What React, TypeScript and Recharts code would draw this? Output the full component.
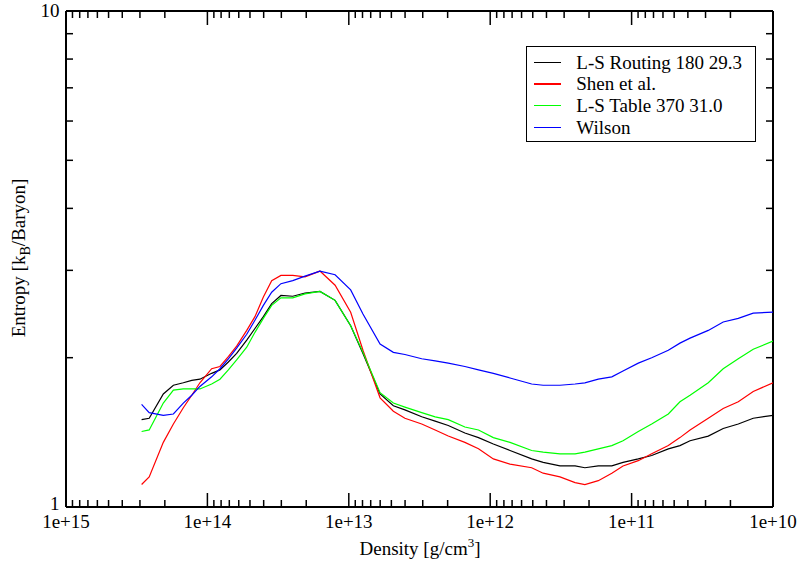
import {
  LineChart,
  Line,
  XAxis,
  YAxis,
  Legend,
  ReferenceLine,
} from "recharts";

const FONT = "'Liberation Serif', 'Times New Roman', serif";

// density [g/cm^3], shared by all four curves
const density = [
  2.92e14, 2.58e14, 2.05e14, 1.74e14, 1.48e14, 1.29e14, 1.13e14, 9.33e13,
  8.15e13, 7.11e13, 6.21e13, 5.27e13, 4.61e13, 4.02e13, 3.51e13, 3.02e13,
  2.49e13, 2.04e13, 1.6e13, 1.25e13, 9.7e12, 7.94e12, 6.01e12, 4.84e12,
  4.01e12, 3.05e12, 2.45e12, 1.98e12, 1.51e12, 1.21e12, 9.5e11, 7.24e11,
  5.09e11, 4.22e11, 3.21e11, 2.51e11, 2.14e11, 1.72e11, 1.38e11, 1.15e11,
  8.97e10, 7.21e10, 5.5e10, 4.55e10, 3.86e10, 2.87e10, 2.25e10, 1.76e10,
  1.38e10, 1.0e10,
];

const lsRouting = [
  1.5, 1.51, 1.69, 1.76, 1.78, 1.8, 1.81, 1.86, 1.89, 1.96, 2.04, 2.17, 2.29,
  2.42, 2.57, 2.67, 2.66, 2.7, 2.72, 2.61, 2.32, 2.04, 1.69, 1.6, 1.57, 1.52,
  1.49, 1.46, 1.41, 1.38, 1.34, 1.3, 1.25, 1.23, 1.21, 1.21, 1.2, 1.21, 1.21,
  1.23, 1.25, 1.27, 1.31, 1.33, 1.36, 1.39, 1.44, 1.47, 1.51, 1.53,
];

const shen = [
  1.11, 1.15, 1.35, 1.47, 1.585, 1.68, 1.78, 1.9, 1.92, 2.01, 2.11, 2.27, 2.42,
  2.65, 2.86, 2.93, 2.93, 2.91, 2.99, 2.8, 2.47, 2.07, 1.66, 1.56, 1.51, 1.47,
  1.43, 1.39, 1.35, 1.31, 1.25, 1.22, 1.2, 1.17, 1.15, 1.12, 1.11, 1.13, 1.17,
  1.21, 1.24, 1.28, 1.33, 1.38, 1.43, 1.51, 1.58, 1.63, 1.71, 1.78,
];

const lsTable = [
  1.42, 1.43, 1.62, 1.72, 1.73, 1.73, 1.73, 1.77, 1.81, 1.89, 1.98, 2.1, 2.25,
  2.4, 2.55, 2.64, 2.64, 2.69, 2.72, 2.61, 2.32, 2.05, 1.7, 1.62, 1.59, 1.55,
  1.52, 1.5, 1.45, 1.43, 1.38, 1.35, 1.3, 1.29, 1.28, 1.28, 1.29, 1.31, 1.33,
  1.36, 1.42, 1.47, 1.54, 1.63, 1.68, 1.78, 1.9, 1.99, 2.08, 2.16,
];

const wilson = [
  1.61, 1.55, 1.53, 1.54, 1.62, 1.68, 1.75, 1.83, 1.9, 1.99, 2.09, 2.23, 2.38,
  2.55, 2.71, 2.82, 2.86, 2.92, 2.99, 2.94, 2.74, 2.45, 2.13, 2.05, 2.03, 1.99,
  1.97, 1.95, 1.92, 1.89, 1.86, 1.82, 1.77, 1.76, 1.76, 1.77, 1.78, 1.81, 1.83,
  1.88, 1.95, 2.0, 2.07, 2.14, 2.19, 2.27, 2.36, 2.4, 2.46, 2.47,
];

const series = [
  { key: "lsRouting", name: "L-S Routing 180 29.3", color: "#000000" },
  { key: "shen", name: "Shen et al.", color: "#ff0000" },
  { key: "lsTable", name: "L-S Table 370 31.0", color: "#00ff00" },
  { key: "wilson", name: "Wilson", color: "#0000ff" },
];

const xDecades = [10, 11, 12, 13, 14, 15];
const yTicks = [1, 2, 3, 4, 5, 6, 7, 8, 9, 10];

const xTicks: number[] = [];
xDecades.forEach((p) => {
  xTicks.push(Math.pow(10, p));
  if (p < 15) for (let m = 2; m <= 9; m++) xTicks.push(m * Math.pow(10, p));
});

const data = density.map((d, i) => ({
  d,
  lsRouting: lsRouting[i],
  shen: shen[i],
  lsTable: lsTable[i],
  wilson: wilson[i],
}));

const W = 801;
const H = 565;
const PLOT_W = 707;
const PLOT_H = 496;

const isDecade = (v: number) =>
  Math.abs(Math.log10(v) - Math.round(Math.log10(v))) < 1e-6;

const textStyle = { fontFamily: FONT, fontSize: 19 };

const XTick = (props: any) => {
  const { x, y, payload } = props;
  const v = payload.value;
  const major = isDecade(v);
  const len = major ? 14 : 7;
  return (
    <g>
      <line x1={x} y1={y} x2={x} y2={y - len} stroke="#000" strokeWidth={1.5} />
      <line
        x1={x}
        y1={y - PLOT_H}
        x2={x}
        y2={y - PLOT_H + len}
        stroke="#000"
        strokeWidth={1.5}
      />
      {major && (
        <text x={x} y={y + 20.5} textAnchor="middle" style={textStyle} fill="#000">
          {"1e+" + Math.round(Math.log10(v))}
        </text>
      )}
    </g>
  );
};

const YTick = (props: any) => {
  const { x, y, payload } = props;
  const v = payload.value;
  const major = isDecade(v);
  const len = 7;
  return (
    <g>
      {!major && (
        <>
          <line x1={x} y1={y} x2={x + len} y2={y} stroke="#000" strokeWidth={1.5} />
          <line
            x1={x + PLOT_W}
            y1={y}
            x2={x + PLOT_W - len}
            y2={y}
            stroke="#000"
            strokeWidth={1.5}
          />
        </>
      )}
      {major && (
        <text
          x={x - 6.5}
          y={y + (v === 1 ? 3 : 6)}
          textAnchor="end"
          style={textStyle}
          fill="#000"
        >
          {v}
        </text>
      )}
    </g>
  );
};

const LegendBox = () => (
  <div
    style={{
      width: 230,
      height: 96,
      boxSizing: "border-box",
      border: "1px solid #000",
      background: "#fff",
      padding: "4.5px 0 0 7.3px",
      fontFamily: FONT,
      fontSize: 19,
      color: "#000",
    }}
  >
    {series.map((s) => (
      <div
        key={s.key}
        style={{ display: "flex", alignItems: "center", height: 21.7 }}
      >
        <span
          style={{
            display: "inline-block",
            width: 27,
            height: 1.3,
            background: s.color,
            marginRight: 15,
          }}
        />
        <span style={{ lineHeight: "21.7px", whiteSpace: "nowrap" }}>{s.name}</span>
      </div>
    ))}
  </div>
);

export default function App() {
  return (
    <div style={{ position: "absolute", left: 0, top: 0, background: "#fff" }}>
      <LineChart
        width={W}
        height={H}
        data={data}
        margin={{ top: 11, right: 28, bottom: 0, left: 0 }}
      >
        <XAxis
          dataKey="d"
          type="number"
          scale="log"
          domain={[1e10, 1e15]}
          reversed
          allowDataOverflow
          ticks={xTicks}
          interval={0}
          tickSize={0}
          tickMargin={0}
          tickLine={false}
          tick={<XTick />}
          height={58}
          axisLine={{ stroke: "#000", strokeWidth: 2 }}
          label={{
            content: () => (
              <text x={420} y={555} textAnchor="middle" style={textStyle} fill="#000">
                Density [g/cm
                <tspan dy={-8} fontSize={13}>
                  3
                </tspan>
                <tspan dy={8}>]</tspan>
              </text>
            ),
          }}
        />
        <YAxis
          type="number"
          scale="log"
          domain={[1, 10]}
          allowDataOverflow
          ticks={yTicks}
          interval={0}
          tickSize={0}
          tickMargin={0}
          tickLine={false}
          tick={<YTick />}
          width={66}
          axisLine={{ stroke: "#000", strokeWidth: 2 }}
          label={{
            content: () => (
              <text
                x={24.5}
                y={258}
                transform="rotate(-90 24.5 258)"
                textAnchor="middle"
                style={textStyle}
                fill="#000"
              >
                Entropy [k
                <tspan dy={5} fontSize={14}>
                  B
                </tspan>
                <tspan dy={-5}>/Baryon]</tspan>
              </text>
            ),
          }}
        />
        <ReferenceLine y={10} stroke="#000" strokeWidth={2} />
        <ReferenceLine x={1e10} stroke="#000" strokeWidth={2} />
        {series.map((s) => (
          <Line
            key={s.key}
            type="linear"
            dataKey={s.key}
            name={s.name}
            stroke={s.color}
            strokeWidth={1.2}
            dot={false}
            activeDot={false}
            isAnimationActive={false}
          />
        ))}
        <Legend
          layout="vertical"
          align="center"
          verticalAlign="middle"
          content={<LegendBox />}
          wrapperStyle={{ position: "absolute", left: 526, top: 46, width: 230, height: 96 }}
        />
      </LineChart>
    </div>
  );
}
